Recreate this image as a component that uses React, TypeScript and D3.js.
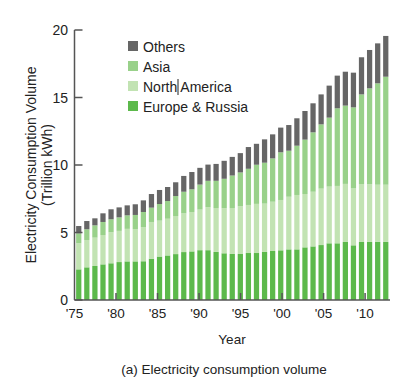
import React from "react";
import * as d3 from "d3";

const years = d3.range(1975, 2014);
const europeRussia = [2.27,2.42,2.52,2.64,2.72,2.81,2.86,2.86,2.87,3.06,3.22,3.30,3.40,3.55,3.60,3.69,3.69,3.56,3.46,3.41,3.41,3.48,3.48,3.56,3.63,3.68,3.75,3.75,3.90,3.97,4.07,4.20,4.20,4.30,4.05,4.30,4.30,4.30,4.30];
const northAmerica = [1.93,2.02,2.10,2.17,2.30,2.31,2.41,2.39,2.53,2.72,2.66,2.72,2.82,2.87,2.92,3.01,3.19,3.25,3.34,3.40,3.54,3.56,3.64,3.58,3.65,3.73,3.90,4.03,3.95,4.05,4.18,4.20,4.25,4.30,4.22,4.29,4.28,4.24,4.24];
const asia = [0.74,0.80,0.91,0.97,0.96,1.00,1.00,1.05,1.12,1.06,1.23,1.31,1.48,1.60,1.68,1.85,1.95,2.02,2.18,2.41,2.50,2.68,2.90,3.03,3.21,3.53,3.41,3.65,4.03,4.40,4.76,5.11,5.75,5.80,6.00,6.64,7.10,7.51,8.00];
const others = [0.54,0.61,0.52,0.64,0.74,0.74,0.74,0.79,0.86,1.01,1.04,1.04,1.02,1.17,1.28,1.24,1.20,1.25,1.33,1.38,1.43,1.61,1.55,1.73,1.78,1.83,1.90,2.03,2.12,2.15,2.22,2.37,2.42,2.51,2.57,2.75,2.84,2.96,3.02];

const seriesKeys = ["europe", "northAmerica", "asia", "others"];
const seriesNames = ["Europe & Russia", "North America", "Asia", "Others"];
const seriesColors = ["#5cb94b", "#c2e3b3", "#99d18a", "#666666"];
const yTicks = [0, 5, 10, 15, 20];
const xTickYears = [1975, 1980, 1985, 1990, 1995, 2000, 2005, 2010];
const xTickLabels = ["'75", "'80", "'85", "'90", "'95", "'00", "'05", "'10"];

const W = 400, H = 387;
const left = 74.5, right = 390, top = 30, bottom = 300;
const font = "'Liberation Sans', Arial, sans-serif";
const axisColor = "#555";
const textColor = "#222";

export default function App() {
  const rows = years.map((y, i) => ({
    year: y,
    europe: europeRussia[i],
    northAmerica: northAmerica[i],
    asia: asia[i],
    others: others[i],
  }));
  const stack = d3.stack<any>().keys(seriesKeys)(rows);
  const x = d3.scaleBand<number>().domain(years).range([left, right]).paddingInner(0.35).paddingOuter(0.2);
  const xLin = d3.scaleLinear().domain([1975, 2013]).range([left, right]);
  const y = d3.scaleLinear().domain([0, 20]).range([bottom, top]);

  const legendOrder = [3, 2, 1, 0];

  return (
    <div style={{ position: "absolute", left: 0, top: 0, margin: 0 }}>
      <svg width={W} height={H} style={{ display: "block", background: "#fff" }}>
        {stack.map((s, si) => (
          <g key={si} fill={seriesColors[si]}>
            {s.map((d, i) => (
              <rect
                key={i}
                x={x(years[i])}
                y={y(d[1])}
                width={x.bandwidth()}
                height={Math.max(0, y(d[0]) - y(d[1]))}
              />
            ))}
          </g>
        ))}
        {/* axes */}
        <line x1={left} x2={left} y1={top} y2={bottom} stroke={axisColor} strokeWidth={1.5} />
        <line x1={left} x2={right} y1={bottom} y2={bottom} stroke={axisColor} strokeWidth={1.5} />
        {yTicks.map((t) => (
          <g key={t}>
            <line x1={left} x2={left + 8} y1={y(t)} y2={y(t)} stroke={axisColor} strokeWidth={1.5} />
            <text x={68} y={y(t) + 5} textAnchor="end" fontSize={14} fontFamily={font} fill={textColor}>
              {t}
            </text>
          </g>
        ))}
        {xTickYears.map((t, i) => (
          <g key={t}>
            {i > 0 && (
              <line x1={xLin(t)} x2={xLin(t)} y1={bottom} y2={bottom - 7} stroke={axisColor} strokeWidth={1.5} />
            )}
            <text x={xLin(t)} y={bottom + 18} textAnchor="middle" fontSize={13.5} fontFamily={font} fill={textColor}>
              {xTickLabels[i]}
            </text>
          </g>
        ))}
        <text x={232} y={344} textAnchor="middle" fontSize={13.5} fontFamily={font} fill={textColor}>
          Year
        </text>
        <text transform="translate(36,165) rotate(-90)" textAnchor="middle" fontSize={14} fontFamily={font} fill={textColor}>
          Electricity Consumption Volume
        </text>
        <text transform="translate(52,165) rotate(-90)" textAnchor="middle" fontSize={14} fontFamily={font} fill={textColor}>
          (Trillion kWh)
        </text>
        <text x={224} y={374} textAnchor="middle" fontSize={13.5} fontFamily={font} fill={textColor}>
          (a) Electricity consumption volume
        </text>
        {/* legend */}
        {legendOrder.map((si, k) => (
          <g key={si} transform={`translate(128, ${41 + k * 20})`}>
            <rect x={0} y={0} width={10} height={10} fill={seriesColors[si]} />
            <text x={15} y={10.5} fontSize={14} fontFamily={font} fill={textColor}>
              {seriesNames[si]}
            </text>
          </g>
        ))}
        <line x1={178} x2={178} y1={79} y2={95} stroke="#222" strokeWidth={1} />
      </svg>
    </div>
  );
}
